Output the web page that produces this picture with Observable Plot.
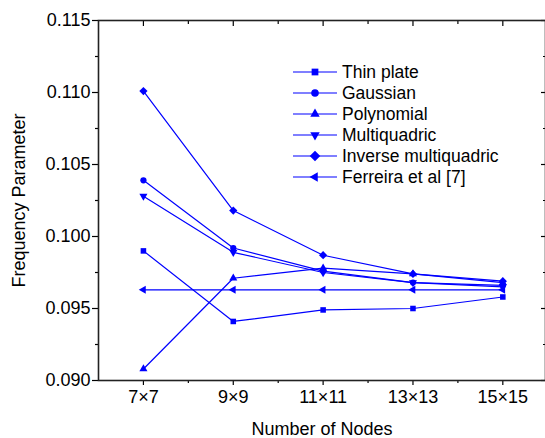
<!DOCTYPE html>
<html>
<head>
<meta charset="utf-8">
<script src="https://cdn.jsdelivr.net/npm/d3@7"></script>
<script src="https://cdn.jsdelivr.net/npm/@observablehq/plot@0.6"></script>
<style>
  html, body { margin: 0; padding: 0; background: #fff; }
  svg { font-family: "Liberation Sans", Arial, sans-serif; }
</style>
</head>
<body>
<div id="chart"></div>
<script>
const nodeLabels = ["7×7", "9×9", "11×11", "13×13", "15×15"];
const nodeCounts = [7, 9, 11, 13, 15];
const seriesNames = ["Thin plate", "Gaussian", "Polynomial", "Multiquadric", "Inverse multiquadric", "Ferreira et al [7]"];
const thinPlate   = [0.0990, 0.0941, 0.0949, 0.0950, 0.0958];
const gaussian    = [0.1039, 0.0992, 0.0976, 0.0968, 0.0966];
const polynomial  = [0.0908, 0.0971, 0.0978, 0.0974, 0.0968];
const multiquad   = [0.1028, 0.0989, 0.0975, 0.0968, 0.0965];
const invMultiquad= [0.1101, 0.1018, 0.0987, 0.0974, 0.0969];
const ferreira    = [0.0963, 0.0963, 0.0963, 0.0963, 0.0963];
const yTicks = [0.090, 0.095, 0.100, 0.105, 0.110, 0.115];
const yMinorTicks = [0.0925, 0.0975, 0.1025, 0.1075, 0.1125];
const xMinorTicks = [8, 10, 12, 14];

const seriesValues = [thinPlate, gaussian, polynomial, multiquad, invMultiquad, ferreira];
const symbols = ["square", "circle", "triangle", "triangle", "square", "triangle"];
const rotations = [0, 0, 0, 180, 45, -90];
const sizes = [3.8, 3.8, 3.5, 3.5, 4.2, 3.5];

const data = [];
seriesNames.forEach((name, si) => {
  nodeCounts.forEach((n, i) => {
    data.push({series: name, si, n, v: seriesValues[si][i]});
  });
});

const blue = "#0000ff";
const fmtX = d => nodeLabels[nodeCounts.indexOf(d)] ?? "";
const noText = () => "";
const FONT = "'Liberation Sans', Arial, sans-serif";

const W = 545, H = 438;
const chart = Plot.plot({
  width: W,
  height: H,
  marginLeft: 98,
  marginTop: 20,
  marginBottom: 58,
  marginRight: 0,
  style: {fontFamily: FONT, background: "white", color: "black"},
  x: {domain: [6, 15.95]},
  y: {domain: [0.090, 0.115]},
  marks: [
    // minor ticks
    Plot.axisY(yMinorTicks, {anchor: "left", tickSize: 3, tickFormat: noText, label: null, strokeWidth: 1.2}),
    Plot.axisY(yMinorTicks, {anchor: "right", tickSize: -3, tickFormat: noText, label: null, strokeWidth: 1.2}),
    Plot.axisX(xMinorTicks, {anchor: "bottom", tickSize: 3, tickFormat: noText, label: null, strokeWidth: 1.2}),
    Plot.axisX(xMinorTicks, {anchor: "top", tickSize: -3, tickFormat: noText, label: null, strokeWidth: 1.2}),
    // major ticks
    Plot.axisY(yTicks, {anchor: "left", tickSize: 6, tickPadding: 2, tickFormat: d3.format(".3f"), label: "Frequency Parameter", labelAnchor: "center", labelArrow: "none", labelOffset: 86, fontSize: 18, strokeWidth: 1.2}),
    Plot.axisY(yTicks, {anchor: "right", tickSize: -5, tickFormat: noText, label: null, strokeWidth: 1.2}),
    Plot.axisX(nodeCounts, {anchor: "bottom", tickSize: 5, tickPadding: 5, tickFormat: fmtX, label: "Number of Nodes", labelAnchor: "center", labelArrow: "none", labelOffset: 54, fontSize: 18, strokeWidth: 1.2}),
    Plot.axisX(nodeCounts, {anchor: "top", tickSize: -5, tickFormat: noText, label: null, strokeWidth: 1.2}),
    Plot.frame({stroke: "#222", strokeWidth: 1.6}),
    Plot.line(data, {x: "n", y: "v", z: "series", stroke: blue, strokeWidth: 1.2}),
    Plot.dot(data, {
      x: "n", y: "v",
      symbol: d => symbols[d.si],
      rotate: d => rotations[d.si],
      r: d => sizes[d.si],
      fill: blue, stroke: "none"
    })
  ]
});
document.getElementById("chart").appendChild(chart);

// legend
const svg = d3.select(chart);
const lg = svg.append("g").attr("font-family", FONT).attr("font-size", 17.5).attr("text-anchor", "start");
const symbolTypes = {square: d3.symbolSquare, circle: d3.symbolCircle, triangle: d3.symbolTriangle};
seriesNames.forEach((name, i) => {
  const y = 72 + i * 21;
  const g = lg.append("g").attr("transform", `translate(0,${y})`);
  g.append("line").attr("x1", 293).attr("x2", 337).attr("y1", 0).attr("y2", 0)
    .attr("stroke", blue).attr("stroke-width", 1.2);
  const r = sizes[i];
  g.append("path")
    .attr("d", d3.symbol(symbolTypes[symbols[i]], Math.PI * r * r)())
    .attr("transform", `translate(315,0) rotate(${rotations[i]})`)
    .attr("fill", blue);
  g.append("text").attr("x", 342).attr("y", 0).attr("dy", "0.35em").attr("fill", "black").text(name);
});
</script>
</body>
</html>
